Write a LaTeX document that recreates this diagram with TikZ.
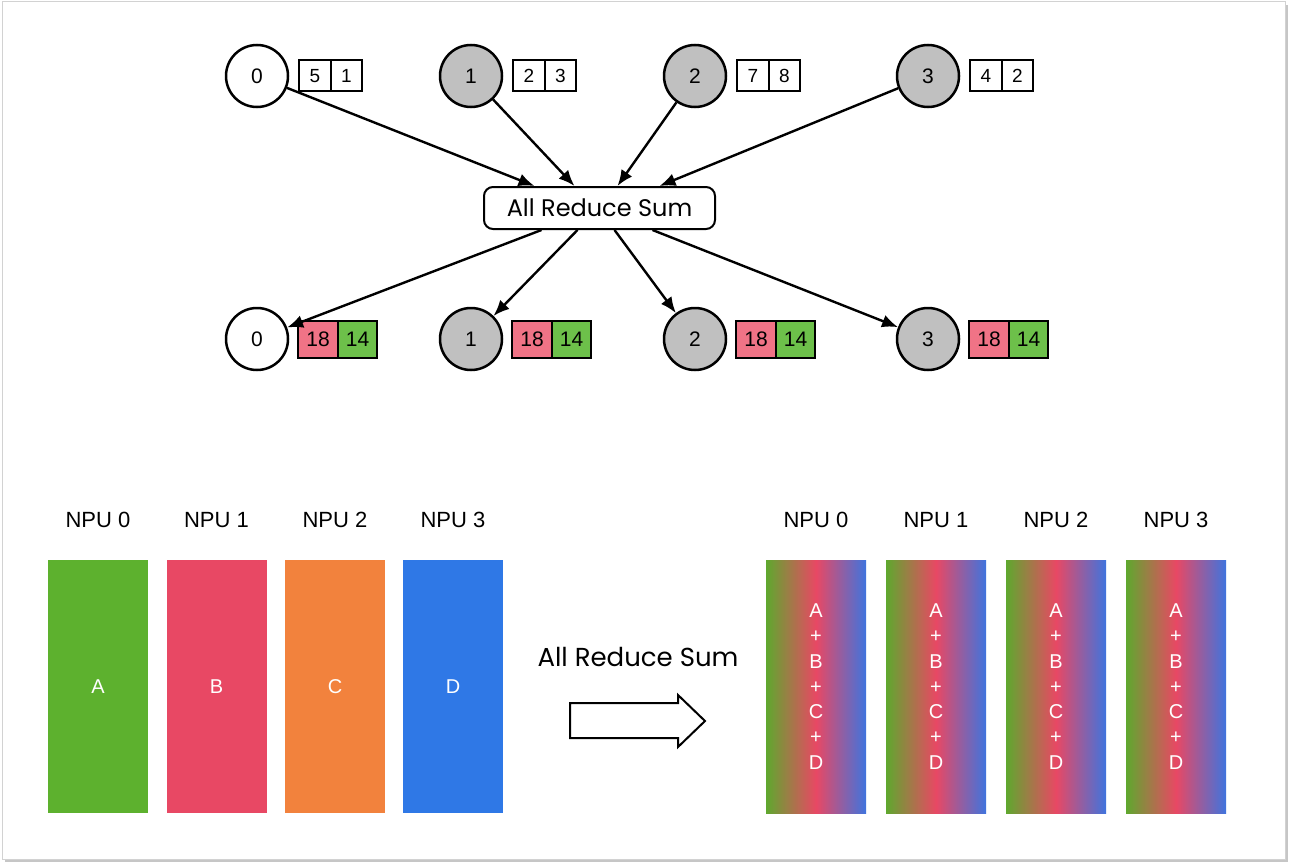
\documentclass[tikz,border=0pt]{standalone}
\usepackage{fontspec}
\setmainfont{Liberation Sans}
\newfontfamily\sketchfont{Poppins}
\usetikzlibrary{arrows.meta,positioning}

\definecolor{npugreen}{HTML}{5DB12E}
\definecolor{npupink}{HTML}{E84864}
\definecolor{npuorange}{HTML}{F2823D}
\definecolor{npublue}{HTML}{2F78E6}
\definecolor{mixgreen}{HTML}{5FA82E}
\definecolor{mixblue}{HTML}{3F74DE}
\definecolor{cellpink}{HTML}{F07386}
\definecolor{cellgreen}{HTML}{6DC04A}
\definecolor{rankgray}{HTML}{C0C0C0}

\tikzset{
  rank/.style={circle,draw,line width=2.5pt,minimum size=62pt,inner sep=0pt,font=\fontsize{21}{21}\selectfont},
  cell/.style={draw,line width=2pt,outer sep=0pt,minimum width=31.5pt,minimum height=31pt,inner sep=0pt,font=\fontsize{19}{19}\selectfont},
  sumcell/.style={cell,minimum width=39.5pt,minimum height=37pt,font=\fontsize{21}{21}\selectfont},
  flow/.style={line width=2.4pt,-{Latex[length=16pt,width=13pt]}},
  bar/.style={minimum width=100pt,minimum height=253pt,inner sep=0pt,text=white,font=\fontsize{20}{20}\selectfont},
  npu/.style={font=\fontsize{22}{22}\selectfont},
}

\begin{document}
\begin{tikzpicture}[x=1pt,y=-1pt]
\useasboundingbox (0,0) rectangle (1290,864);
% frame
\fill[gray!45] (5,5) rectangle (1288,862);
\draw[gray!35,fill=white,line width=1pt] (2,2) rectangle (1285,859);

% ranks before
\node[rank] (t0) at (257,76) {0};
\node[rank,fill=rankgray] (t1) at (471,76) {1};
\node[rank,fill=rankgray] (t2) at (695,76) {2};
\node[rank,fill=rankgray] (t3) at (928,76) {3};
\foreach \r/\a/\b in {0/5/1,1/2/3,2/7/8,3/4/2}{
  \node[cell,right=10pt of t\r] (t\r a) {\a};
  \node[cell,right=0pt of t\r a] (t\r b) {\b};
}

\node[draw,line width=2pt,rounded corners=9pt,minimum width=231pt,minimum height=42pt,
  font=\sketchfont\fontsize{24}{24}\selectfont] (sum) at (599.5,208) {All Reduce Sum};

\draw[flow] (t0) -- ([xshift=-65pt]sum.north);
\draw[flow] (t1) -- ([xshift=-25pt]sum.north);
\draw[flow] (t2) -- ([xshift=18pt]sum.north);
\draw[flow] (t3) -- ([xshift=60pt]sum.north);

% ranks after
\node[rank] (s0) at (257,339) {0};
\node[rank,fill=rankgray] (s1) at (471,339) {1};
\node[rank,fill=rankgray] (s2) at (695,339) {2};
\node[rank,fill=rankgray] (s3) at (928,339) {3};
\foreach \r in {0,...,3}{
  \node[sumcell,fill=cellpink,right=9pt of s\r] (s\r a) {18};
  \node[sumcell,fill=cellgreen,right=0pt of s\r a] (s\r b) {14};
}

\draw[flow] ([xshift=-58pt]sum.south) -- (s0);
\draw[flow] ([xshift=-22pt]sum.south) -- (s1);
\draw[flow] ([xshift=15pt]sum.south) -- (s2);
\draw[flow] ([xshift=53pt]sum.south) -- (s3);

% NPU buffers before
\foreach \i/\x/\c/\l in {0/98/npugreen/A,1/216.5/npupink/B,2/335/npuorange/C,3/453/npublue/D}{
  \node[npu] (p\i) at (\x,520) {NPU \i};
  \node[bar,fill=\c] (b\i) at (\x,686.5) {\l};
}

\node[font=\sketchfont\fontsize{26}{26}\selectfont] (op) at (638,657) {All Reduce Sum};
\draw[line width=2pt] (570,703) -- (678,703) -- (678,695) -- (705,721)
  -- (678,747) -- (678,738) -- (570,738) -- cycle;

% NPU buffers after
\foreach \i/\x in {0/816,1/936,2/1056,3/1176}{
  \node[npu] (q\i) at (\x,520) {NPU \i};
  \node[bar,left color=mixgreen,right color=mixblue,middle color=npupink,
    align=center,font=\fontsize{20}{25.3}\selectfont] (r\i) at (\x,686.5) {A\\+\\B\\+\\C\\+\\D};
}
\end{tikzpicture}
\end{document}
